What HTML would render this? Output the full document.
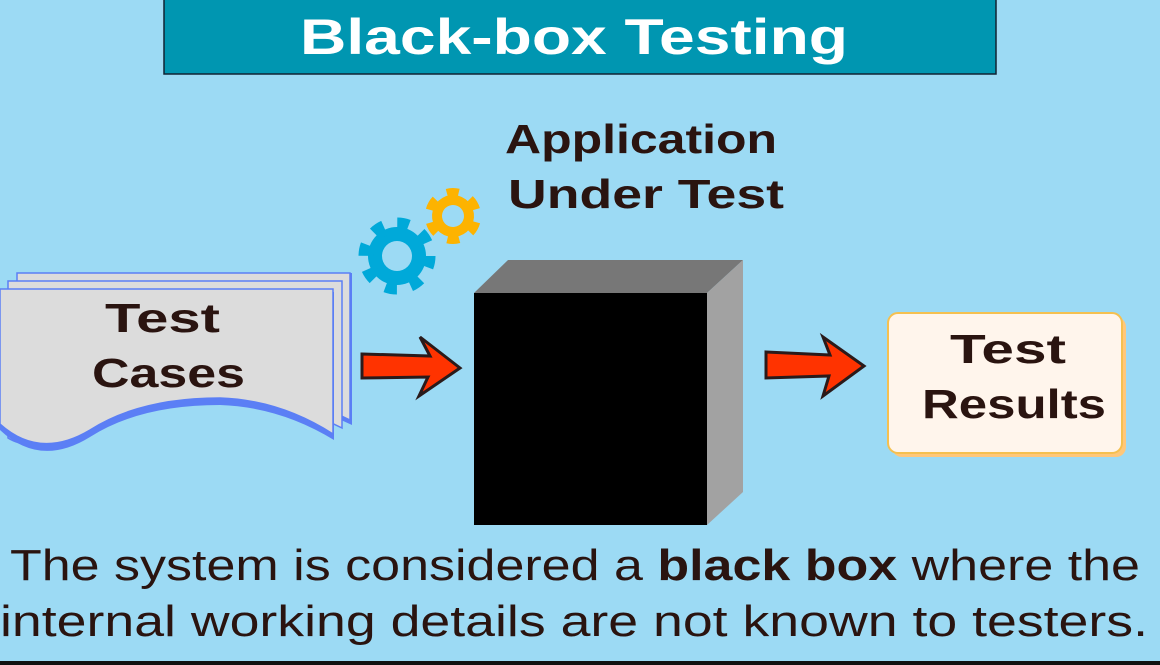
<!DOCTYPE html>
<html><head><style>
body{margin:0;width:1160px;height:665px;overflow:hidden;background:#9cdaf4;font-family:"Liberation Sans",sans-serif;}
</style></head><body>
<svg width="1160" height="665" xmlns="http://www.w3.org/2000/svg" style="position:absolute;left:0;top:0">
<rect x="164" y="-2" width="832" height="76" fill="#0096b1" stroke="#123" stroke-width="1.5"/>
<text x="300" y="54" textLength="548" lengthAdjust="spacingAndGlyphs" fill="#fff" font-weight="bold" font-size="50">Black-box Testing</text>
<text x="505" y="153" textLength="272" lengthAdjust="spacingAndGlyphs" fill="#2a1410" font-weight="bold" font-size="41">Application</text>
<text x="508" y="208" textLength="276" lengthAdjust="spacingAndGlyphs" fill="#2a1410" font-weight="bold" font-size="41">Under Test</text>
<!-- gears -->
<g transform="translate(397,256)">
<circle r="29" fill="#00a9d9"/>
<circle r="31" fill="none" stroke="#00a9d9" stroke-width="15" stroke-dasharray="11 13.35" stroke-linecap="butt"/>
<circle r="15" fill="#9cdaf4"/>
</g>
<g transform="translate(453,216) rotate(15)">
<circle r="21" fill="#fdb300"/>
<circle r="22" fill="none" stroke="#fdb300" stroke-width="12" stroke-dasharray="11 12"/>
<circle r="11" fill="#9cdaf4"/>
</g>
<!-- pages -->
<path d="M17 273 H352 V425 Q300 400 240 395 Q150 395 100 420 Q40 450 17 430 Z" fill="#5b7ff5"/>
<path d="M17 273 H350 V420 Q300 395 240 392 Q150 392 100 418 Q40 448 17 428 Z" fill="#dcdcdc" stroke="#5b7ff5" stroke-width="1.5"/>
<path d="M8 281 H342 V428 Q290 402 230 400 Q140 400 90 428 Q35 455 8 438 Z" fill="#dcdcdc" stroke="#5b7ff5" stroke-width="1.5"/>
<path d="M0 292 H334 V440 Q280 407 220 405 Q140 405 90 437 Q40 468 0 430 Z" fill="#5b7ff5"/>
<path d="M0 289 H333 V434 Q280 400 220 398 Q140 398 90 430 Q40 460 0 424 Z" fill="#dcdcdc" stroke="#5b7ff5" stroke-width="1.5"/>
<text x="105" y="332" textLength="115" lengthAdjust="spacingAndGlyphs" fill="#2a1410" font-weight="bold" font-size="41">Test</text>
<text x="92" y="387" textLength="153" lengthAdjust="spacingAndGlyphs" fill="#2a1410" font-weight="bold" font-size="41">Cases</text>
<!-- arrows -->
<path d="M362 354 L430 356 L420 337 L460 368 L419 396 L428 377 L362 378 Z" fill="#ff3300" stroke="#2a1a1a" stroke-width="3"/>
<path d="M766 352 L830 355 L823 337 L864 366 L823 396 L829 376 L766 378 Z" fill="#ff3300" stroke="#2a1a1a" stroke-width="3"/>
<!-- cube -->
<polygon points="474,293 508,260 743,260 707,293" fill="#777"/>
<polygon points="707,293 743,260 743,492 707,525" fill="#a2a2a2"/>
<rect x="474" y="293" width="233" height="232" fill="#000"/>
<!-- results -->
<rect x="892" y="317" width="234" height="140" rx="10" fill="#ffc77a"/>
<rect x="888" y="313" width="234" height="140" rx="10" fill="#fff5ec" stroke="#f5c050" stroke-width="2"/>
<text x="950" y="363" textLength="116" lengthAdjust="spacingAndGlyphs" fill="#2a1410" font-weight="bold" font-size="41">Test</text>
<text x="922" y="418" textLength="184" lengthAdjust="spacingAndGlyphs" fill="#2a1410" font-weight="bold" font-size="41">Results</text>
<!-- bottom text -->
<text x="10" y="580" textLength="1130" lengthAdjust="spacingAndGlyphs" fill="#2a1410" font-size="44">The system is considered a <tspan font-weight="bold">black box</tspan> where the</text>
<text x="0" y="636" textLength="1148" lengthAdjust="spacingAndGlyphs" fill="#2a1410" font-size="44">internal working details are not known to testers.</text>
<rect x="0" y="661" width="1160" height="4" fill="#111"/>
</svg>
</body></html>
